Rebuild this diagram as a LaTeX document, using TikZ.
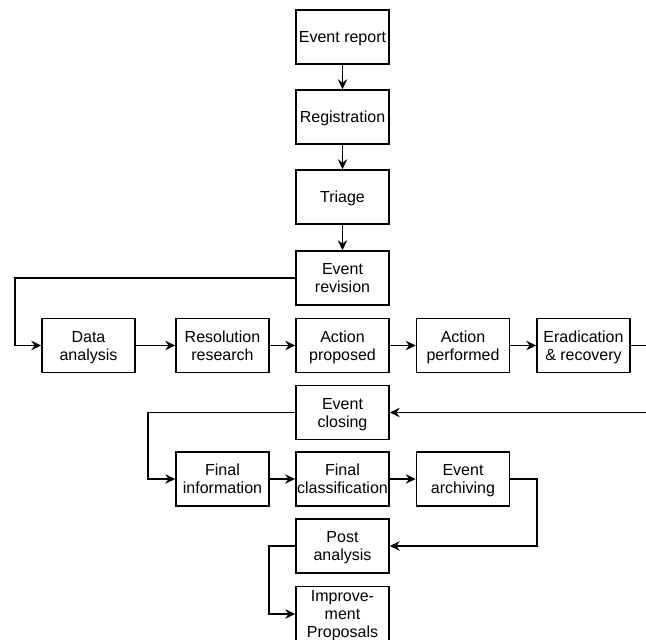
\documentclass[tikz,border=0pt]{standalone}
\usepackage{fontspec}
\setmainfont{Liberation Sans}
\usetikzlibrary{arrows.meta}

\tikzset{
    box/.style={draw, line width=1.1pt, minimum width=69.75pt, minimum height=40.5pt,
        inner sep=1pt, text depth=0pt, align=center, font=\fontsize{12}{13.5}\selectfont},
    arr/.style={line width=1.1pt, -{Stealth[length=7.5pt, width=7pt, inset=2.5pt]}},
    lin/.style={line width=1.1pt}
}

\begin{document}
\begin{tikzpicture}[x=0.75pt, y=-0.75pt]
\useasboundingbox (0,0) rectangle (646,639);
\clip (0,0) rectangle (646,639);

% Process steps
\foreach \name/\x/\y/\txt in {
    report/342.5/37/Event report,
    registration/342.5/117/Registration,
    triage/342.5/197/Triage,
    revision/342.5/278/Event\\revision,
    data/88.5/345.5/Data\\analysis,
    research/222.5/345.5/Resolution\\research,
    proposed/342.5/345.5/Action\\proposed,
    performed/463/345.5/Action\\performed,
    eradication/583.5/345.5/Eradication\\\& recovery,
    closing/342.5/412.5/Event\\closing,
    finalinfo/222.5/479/Final\\information,
    finalclass/342.5/479/Final\\classification,
    archiving/463/479/Event\\archiving,
    post/342.5/546/Post\\analysis} {
    \node[box] (\name) at (\x,\y) {\txt};
}
\node[box, inner ysep=3pt] (improve) at (342.5,614) {Improve-\\ment\\Proposals};

% Straight links
\foreach \a/\b in {
    report/registration, registration/triage, triage/revision,
    data/research, research/proposed, proposed/performed, performed/eradication,
    finalinfo/finalclass, finalclass/archiving} {
    \draw[arr] (\a) -- (\b);
}

% Bent links
\coordinate (left1) at (15,278);
\coordinate (left2) at (148,412.5);
\coordinate (left3) at (269,546);
\coordinate (right1) at (537,479);
\coordinate (edgeout) at (646,345.5);
\coordinate (edgein) at (646,412.5);

\draw[arr] (revision.west) -- (left1) |- (data.west);
\draw[lin] (eradication.east) -- (edgeout);
\draw[arr] (edgein) -- (closing.east);
\draw[arr] (closing.west) -- (left2) |- (finalinfo.west);
\draw[arr] (archiving.east) -- (right1) |- (post.east);
\draw[arr] (post.west) -- (left3) |- (improve.west);
\end{tikzpicture}
\end{document}
